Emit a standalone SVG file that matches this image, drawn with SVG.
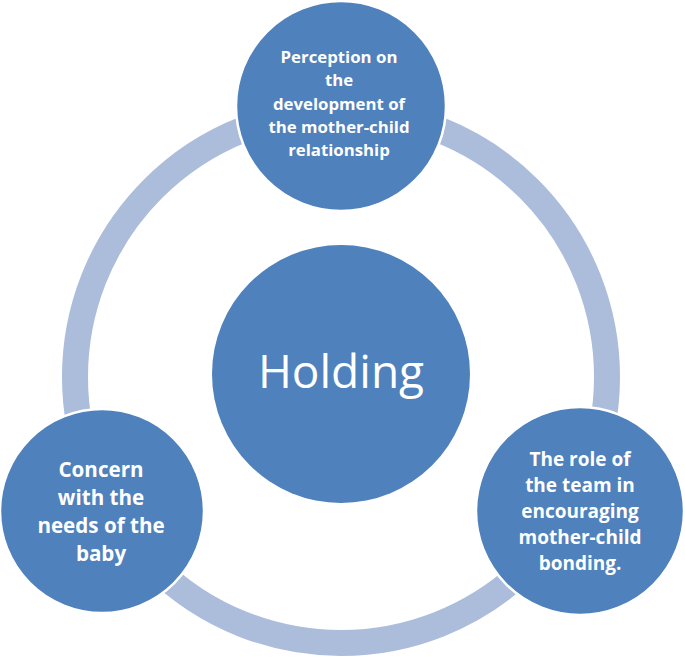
<svg xmlns="http://www.w3.org/2000/svg" width="685" height="658" viewBox="0 0 685 658">
<style>
.ring{fill:none;stroke:#ABBDDB;stroke-width:26}
.node{fill:#4F81BD;stroke:#FFFFFF;stroke-width:2.5}
.hub{fill:#4F81BD}
.lbl{font-family:"Open Sans","Noto Sans",sans-serif;font-weight:bold;fill:#FFFFFF;text-anchor:middle}
.hubt{font-family:"Open Sans","Noto Sans",sans-serif;fill:#FFFFFF;text-anchor:middle;font-size:46px}
</style>
<rect width="685" height="658" fill="#FFFFFF"/>
<g id="connectors">
<circle class="ring" cx="341" cy="377" r="266"/>
</g>
<g id="hub">
<circle class="hub" cx="341" cy="374" r="129"/>
<text class="hubt" x="341" y="388">Holding</text>
</g>
<g id="node-top">
<circle class="node" cx="341" cy="106" r="105"/>
<text class="lbl" font-size="16.8"><tspan x="339" y="63">Perception on</tspan><tspan x="339" y="86.3">the</tspan><tspan x="339" y="109.6">development of</tspan><tspan x="339" y="132.9">the mother-child</tspan><tspan x="339" y="156.2">relationship</tspan></text>
</g>
<g id="node-left">
<circle class="node" cx="102" cy="511" r="102"/>
<text class="lbl" font-size="20.6"><tspan x="101" y="477">Concern</tspan><tspan x="101" y="505">with the</tspan><tspan x="101" y="533">needs of the</tspan><tspan x="101" y="561">baby</tspan></text>
</g>
<g id="node-right">
<circle class="node" cx="580" cy="511" r="104"/>
<text class="lbl" font-size="19"><tspan x="580" y="466">The role of</tspan><tspan x="580" y="492">the team in</tspan><tspan x="580" y="518">encouraging</tspan><tspan x="580" y="544">mother-child</tspan><tspan x="580" y="570">bonding.</tspan></text>
</g>
</svg>
